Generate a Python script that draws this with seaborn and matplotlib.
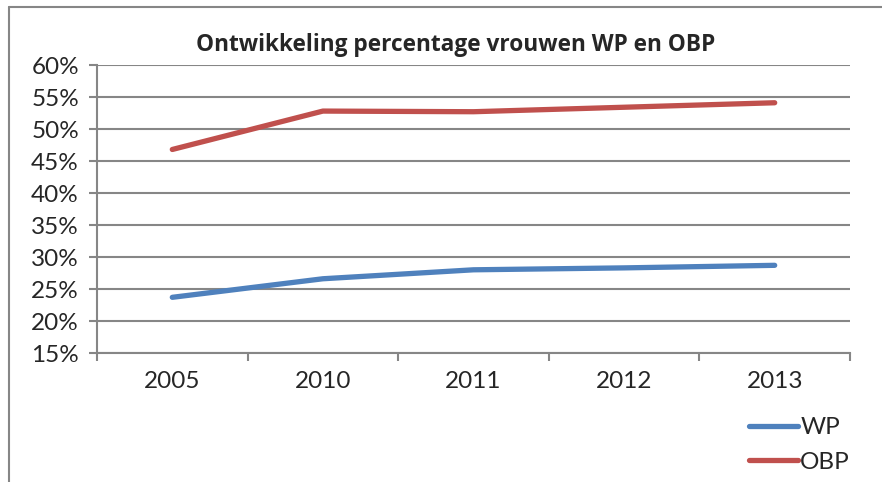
import pandas as pd
import numpy as np
import matplotlib
matplotlib.use('Agg')
import matplotlib.pyplot as plt
import seaborn as sns
from matplotlib.lines import Line2D
from matplotlib.ticker import FuncFormatter, FixedLocator

# data
years = ['2005', '2010', '2011', '2012', '2013']
wp = [23.7, 26.6, 28.0, 28.3, 28.7]
obp = [46.8, 52.8, 52.7, 53.4, 54.1]

df = pd.DataFrame({'Jaar': years * 2,
                   'Percentage': wp + obp,
                   'Groep': ['WP'] * len(years) + ['OBP'] * len(years)})

sns.set_style('white')
plt.rcParams['font.family'] = ['Lato', 'DejaVu Sans']

colors = {'WP': '#4F81BD', 'OBP': '#C0504D'}
grid_col = '#868686'

fig = plt.figure(figsize=(8.82, 4.82), dpi=100)
ax = fig.add_axes([97 / 882, 1 - 353 / 482, (850 - 97) / 882, (353 - 65) / 482])

sns.lineplot(data=df, x='Jaar', y='Percentage', hue='Groep', palette=colors,
             linewidth=3.8, ax=ax, legend=False, sort=False)
for ln in ax.lines:
    ln.set_solid_capstyle('round')

ax.set_ylim(15, 60)
ax.set_yticks(np.arange(15, 61, 5))
ax.yaxis.set_major_formatter(FuncFormatter(lambda v, p: f'{v:.0f}%'))
ax.set_xlim(-0.5, len(years) - 0.5)
ax.xaxis.set_minor_locator(FixedLocator(np.arange(-0.5, len(years), 1)))

ax.grid(axis='y', color=grid_col, linewidth=1.5)
ax.set_axisbelow(True)
for s in ['top', 'right']:
    ax.spines[s].set_visible(False)
for s in ['left', 'bottom']:
    ax.spines[s].set_color(grid_col)
    ax.spines[s].set_linewidth(1.5)

ax.tick_params(axis='y', which='major', length=6, width=1.5, color=grid_col,
               labelsize=17.5, pad=7, left=True)
ax.tick_params(axis='x', which='major', length=0, labelsize=17.5, pad=13)
ax.tick_params(axis='x', which='minor', length=6, width=1.5, color=grid_col, bottom=True)
ax.set_xlabel('')
ax.set_ylabel('')

fig.text(456 / 882, 1 - 45 / 482, 'Ontwikkeling percentage vrouwen WP en OBP',
         ha='center', va='center', fontsize=16.3, fontweight='bold', family='Open Sans')

handles = [Line2D([], [], color=colors[g], linewidth=3.8, solid_capstyle='round') for g in ['WP', 'OBP']]
fig.legend(handles, ['WP', 'OBP'], loc='upper left', bbox_to_anchor=(737 / 882, 1 - 405 / 482),
           frameon=False, fontsize=17.5, handlelength=2.0, handletextpad=0.1,
           labelspacing=0.55, borderpad=0)

# chart border (only left and top visible in the reference crop)
fig.add_artist(Line2D([9 / 882, 9 / 882], [0, 1 - 7 / 482], color=grid_col, linewidth=1.5))
fig.add_artist(Line2D([9 / 882, 1], [1 - 7 / 482, 1 - 7 / 482], color=grid_col, linewidth=1.5))

plt.savefig('out.png', dpi=100)
